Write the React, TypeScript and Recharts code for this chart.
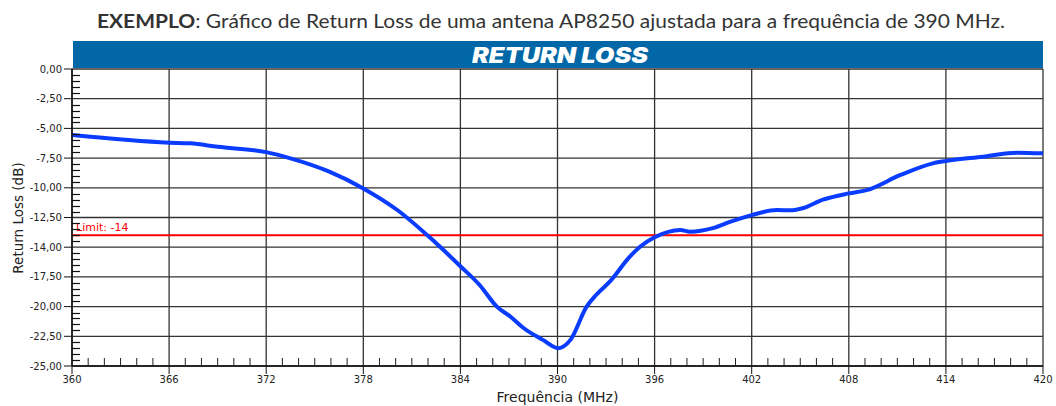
import React from "react";
import { CartesianGrid, ComposedChart, Line, ReferenceLine, XAxis, YAxis } from "recharts";

// values
const freqs = [
  360, 366, 367.3, 369, 372, 373.5, 375.9, 378, 380.1, 382.1, 384, 385.2, 386.25, 387.1, 387.9,
  389.1, 390.05, 390.8, 391.8, 392.4, 393.3, 394.4, 395.1, 396, 397.6, 398.2, 399.6, 400.7, 402,
  403.55, 404.4, 405.2, 406.4, 408, 409.1, 411.2, 413.2, 414, 416.3, 418.4, 420,
];
const returnLoss = [
  -5.56, -6.2, -6.26, -6.55, -7.0, -7.52, -8.64, -10.05, -11.87, -14.17, -16.6, -18.2, -20.0, -20.85,
  -21.8, -22.8, -23.5, -22.8, -20.0, -19.0, -17.8, -15.9, -14.96, -14.17, -13.55, -13.7, -13.4,
  -12.85, -12.3, -11.87, -11.9, -11.7, -11.0, -10.47, -10.2, -8.92, -7.94, -7.74, -7.38, -7.04, -7.1,
];

const xTicks = [360, 366, 372, 378, 384, 390, 396, 402, 408, 414, 420];
const yTicks = [0, -2.5, -5, -7.5, -10, -12.5, -15, -17.5, -20, -22.5, -25];
const yTickLabels = [
  "0,00", "-2,50", "-5,00", "-7,50", "-10,00", "-12,50", "-14,00", "-17,50", "-20,00", "-22,50", "-25,00",
];
const limit = -14;

const data = freqs.map((f, i) => ({ f, rl: returnLoss[i] }));

// plot box
const W = 1056;
const H = 406;
const plotTop = 69;
const plotLeft = 72;
const plotRight = 1043;
const xAxisH = 40;
const plotBottom = H - xAxisH;

// minor tick positions (1 MHz / 0.5 dB)
const xMinor: number[] = [];
for (let f = 361; f < 420; f++) if (f % 6 !== 0) xMinor.push(f);
const yMinor: number[] = [];
for (let i = 1; i < 50; i++) if (i % 5 !== 0) yMinor.push(-i * 0.5);

const tickFont = { fontFamily: "DejaVu Sans", fontSize: 10, fill: "#222" };
const noLabel = () => <g />;

export default function App() {
  const yPix = (v: number) => plotTop + (-v / 25) * (plotBottom - plotTop);
  return (
    <div style={{ position: "absolute", left: 0, top: 0, width: W, height: H, background: "#fff" }}>
      <svg width={W} height={H} style={{ position: "absolute", left: 0, top: 0 }}>
        <text
          x={551}
          y={28}
          textAnchor="middle"
          fontFamily="Lato, 'Noto Sans', sans-serif"
          fontSize={19}
          fill="#333"
          textLength={908}
          lengthAdjust="spacingAndGlyphs"
        >
          <tspan fontWeight="bold">EXEMPLO</tspan>: Gráfico de Return Loss de uma antena AP8250 ajustada para a frequência de 390 MHz.
        </text>
        <rect x={plotLeft + 1} y={41} width={plotRight - plotLeft - 1} height={27} fill="#0167a7" />
        <text
          x={560}
          y={63}
          textAnchor="middle"
          fontFamily="Inter, Roboto, sans-serif"
          fontWeight={900}
          fontStyle="italic"
          fontSize={21}
          fill="#fff"
          textLength={176}
          lengthAdjust="spacingAndGlyphs"
        >
          RETURN LOSS
        </text>
        <text
          x={23}
          y={218}
          transform="rotate(-90 23 218)"
          textAnchor="middle"
          fontFamily="DejaVu Sans"
          fontSize={13.5}
          fill="#222"
        >
          Return Loss (dB)
        </text>
      </svg>
      <div style={{ position: "absolute", left: 0, top: 0 }}>
        <ComposedChart
          width={W}
          height={H}
          data={data}
          margin={{ top: plotTop, right: W - plotRight, bottom: 0, left: 10 }}
        >
          <CartesianGrid stroke="#333" strokeWidth={1.3} />
          <XAxis
            dataKey="f"
            type="number"
            domain={[360, 420]}
            ticks={xTicks}
            height={xAxisH}
            tick={tickFont}
            tickSize={8}
            axisLine={{ stroke: "#111", strokeWidth: 1.5 }}
            tickLine={{ stroke: "#111" }}
            label={{
              value: "Frequência (MHz)",
              position: "insideBottom",
              offset: 4,
              fontFamily: "DejaVu Sans",
              fontSize: 14,
              fill: "#222",
            }}
          />
          <XAxis
            xAxisId="minor"
            dataKey="f"
            type="number"
            domain={[360, 420]}
            ticks={xMinor}
            interval={0}
            height={10}
            mirror
            tick={noLabel}
            tickSize={8}
            axisLine={false}
            tickLine={{ stroke: "#222" }}
          />
          <YAxis
            dataKey="rl"
            type="number"
            domain={[-25, 0]}
            ticks={yTicks}
            interval={0}
            width={plotLeft - 10}
            tick={tickFont}
            tickSize={8}
            tickFormatter={(v: number) => yTickLabels[yTicks.indexOf(v)] ?? String(v)}
            axisLine={{ stroke: "#111", strokeWidth: 1.5 }}
            tickLine={{ stroke: "#111" }}
          />
          <ReferenceLine
            y={limit}
            stroke="#ff0000"
            strokeWidth={2}
            label={{
              value: "Limit: -14",
              position: "insideBottomLeft",
              offset: 4,
              fontFamily: "DejaVu Sans",
              fontSize: 11,
              fill: "#ff0000",
            }}
          />
          <Line
            type="monotone"
            dataKey="rl"
            stroke="#0a3cff"
            strokeWidth={4}
            dot={false}
            isAnimationActive={false}
          />
        </ComposedChart>
      </div>
      {/* minor ticks on the value axis */}
      <svg width={W} height={H} style={{ position: "absolute", left: 0, top: 0, pointerEvents: "none" }}>
        {yMinor.map((v) => (
          <line
            key={v}
            x1={plotLeft}
            x2={plotLeft + 8}
            y1={Math.round(yPix(v)) + 0.5}
            y2={Math.round(yPix(v)) + 0.5}
            stroke="#111"
            strokeWidth={1.2}
          />
        ))}
      </svg>
    </div>
  );
}
